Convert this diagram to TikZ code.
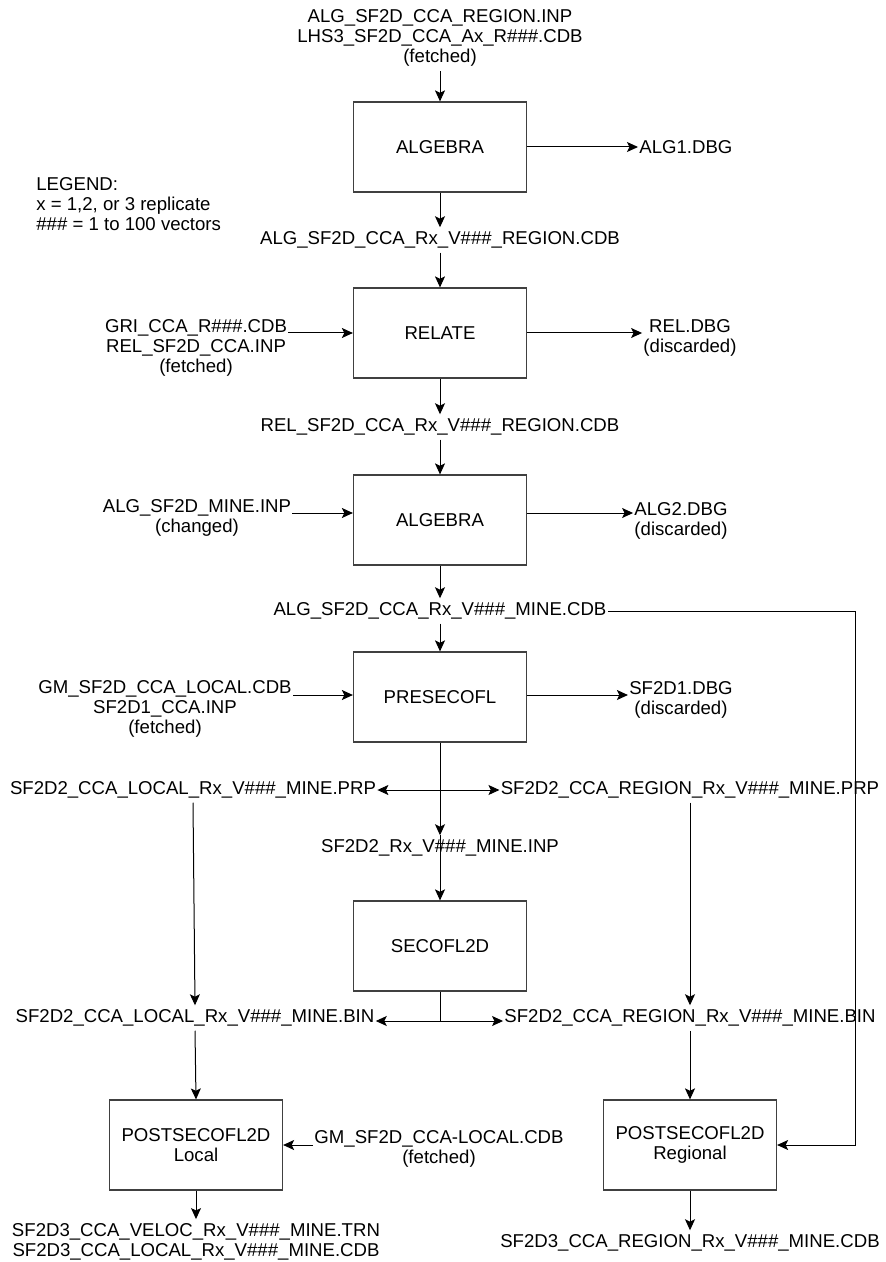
\documentclass[tikz,border=0pt]{standalone}
\usepackage{fontspec}
\setmainfont{Liberation Sans}
\usepackage{tikz}
\usetikzlibrary{arrows.meta, positioning}

\newcommand{\diagfont}{\fontsize{9.3}{10.2}\selectfont}

\begin{document}
\begin{tikzpicture}[
    prog/.style={draw=black!75, line width=0.6pt,
                 minimum width=86.5pt, minimum height=45pt,
                 align=center, font=\diagfont},
    file/.style={align=center, inner xsep=0.5pt, inner ysep=2pt,
                 font=\diagfont},
    arr/.style={-{Stealth[length=5.5pt, width=5pt, inset=1.2pt]},
                line width=0.5pt},
    darr/.style={{Stealth[length=5.5pt, width=5pt, inset=1.2pt]}-{Stealth[length=5.5pt, width=5pt, inset=1.2pt]},
                line width=0.5pt},
    wire/.style={line width=0.5pt},
    x=0.5pt, y=-0.5pt
  ]
  \useasboundingbox (0,0) rectangle (886,1262);

  % programs
  \node[prog] (alg1) at (440, 147) {ALGEBRA};
  \node[prog] (rel)  at (440, 333) {RELATE};
  \node[prog] (alg2) at (440, 520) {ALGEBRA};
  \node[prog] (pre)  at (440, 697) {PRESECOFL};
  \node[prog] (sec)  at (440, 946) {SECOFL2D};
  \node[prog] (loc)  at (196, 1145) {POSTSECOFL2D\\Local};
  \node[prog] (reg)  at (690, 1145) {POSTSECOFL2D\\Regional};

  % files
  \node[file] (algin) at (440, 38)
    {ALG\_SF2D\_CCA\_REGION.INP\\LHS3\_SF2D\_CCA\_Ax\_R\#\#\#.CDB\\(fetched)};
  \node[file, anchor=west] (alg1dbg) at (638, 147) {ALG1.DBG};
  \node[file, anchor=west, align=left] (legend) at (35, 204)
    {LEGEND:\\x = 1,2, or 3 replicate\\\#\#\# = 1 to 100 vectors};
  \node[file] (algreg) at (440, 240) {ALG\_SF2D\_CCA\_Rx\_V\#\#\#\_REGION.CDB};
  \node[file] (gri) at (196, 348)
    {GRI\_CCA\_R\#\#\#.CDB\\REL\_SF2D\_CCA.INP\\(fetched)};
  \node[file] (reldbg) at (690, 338) {REL.DBG\\(discarded)};
  \node[file] (relreg) at (440, 427) {REL\_SF2D\_CCA\_Rx\_V\#\#\#\_REGION.CDB};
  \node[file] (minein) at (197, 518) {ALG\_SF2D\_MINE.INP\\(changed)};
  \node[file] (alg2dbg) at (681, 521) {ALG2.DBG\\(discarded)};
  \node[file] (minecdb) at (440, 611) {ALG\_SF2D\_CCA\_Rx\_V\#\#\#\_MINE.CDB};
  \node[file] (gmloc) at (165, 709)
    {GM\_SF2D\_CCA\_LOCAL.CDB\\SF2D1\_CCA.INP\\(fetched)};
  \node[file] (sf1dbg) at (681, 700) {SF2D1.DBG\\(discarded)};
  \node[file] (prpl) at (193, 790) {SF2D2\_CCA\_LOCAL\_Rx\_V\#\#\#\_MINE.PRP};
  \node[file] (prpr) at (690, 790) {SF2D2\_CCA\_REGION\_Rx\_V\#\#\#\_MINE.PRP};
  \node[file] (secin) at (440, 848) {SF2D2\_Rx\_V\#\#\#\_MINE.INP};
  \node[file] (binl) at (195, 1018) {SF2D2\_CCA\_LOCAL\_Rx\_V\#\#\#\_MINE.BIN};
  \node[file] (binr) at (690, 1018) {SF2D2\_CCA\_REGION\_Rx\_V\#\#\#\_MINE.BIN};
  \node[file] (gmcca) at (439, 1149) {GM\_SF2D\_CCA-LOCAL.CDB\\(fetched)};
  \node[file] (locout) at (196, 1242)
    {SF2D3\_CCA\_VELOC\_Rx\_V\#\#\#\_MINE.TRN\\SF2D3\_CCA\_LOCAL\_Rx\_V\#\#\#\_MINE.CDB};
  \node[file] (regout) at (690, 1243) {SF2D3\_CCA\_REGION\_Rx\_V\#\#\#\_MINE.CDB};

  \coordinate (split) at (440, 1021);
  \coordinate (bend) at (855, 611);

  % main chain
  \draw[arr] (algin) -- (alg1);
  \draw[arr] (alg1.east) -- (alg1dbg.west);
  \draw[arr] (alg1) -- (algreg);
  \draw[arr] (algreg) -- (rel);
  \draw[arr] (gri.east |- rel.west) -- (rel.west);
  \draw[arr] (rel.east) -- (reldbg.west |- rel.east);
  \draw[arr] (rel) -- (relreg);
  \draw[arr] (relreg) -- (alg2);
  \draw[arr] (minein.east |- 0,513) -- (alg2.west |- 0,513);
  \draw[arr] (alg2.east |- 0,513) -- (alg2dbg.west |- 0,513);
  \draw[arr] (alg2) -- (minecdb);
  \draw[arr] (minecdb) -- (pre);
  \draw[arr] (gmloc.east |- 0,695) -- (pre.west |- 0,695);
  \draw[arr] (pre.east |- 0,695) -- (sf1dbg.west |- 0,695);
  \draw[arr] (pre.south) -- (secin.north);
  \draw[arr] (secin.north) -- (sec.north);
  \draw[darr] (prpl.east) -- (prpr.west);

  % outputs of SECOFL2D
  \draw[wire] (sec.south) -- (split);
  \draw[arr] (split) -- (binl.east |- split);
  \draw[arr] (split) -- (binr.west |- split);
  \draw[arr] (prpl.south) -- (binl.north);
  \draw[arr] (prpr.south) -- (binr.north);

  % post-processing
  \draw[arr] (binl.south) -- (loc.north);
  \draw[arr] (binr.south) -- (reg.north);
  \draw[arr] (gmcca.west |- loc.east) -- (loc.east);
  \draw[arr] (minecdb.east) -- (bend) |- (reg.east);
  \draw[arr] (loc) -- (locout);
  \draw[arr] (reg) -- (regout);
\end{tikzpicture}
\end{document}
